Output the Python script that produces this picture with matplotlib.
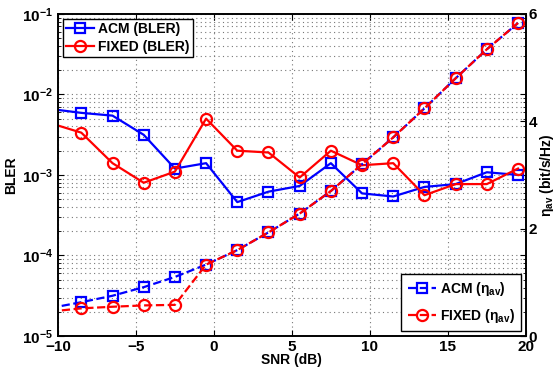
"""BLER and average spectral efficiency versus SNR, ACM vs fixed scheme."""

import matplotlib

matplotlib.use("Agg")
import matplotlib.pyplot as plt
from matplotlib.ticker import LogLocator, NullFormatter

plt.rcParams["font.family"] = ["Liberation Sans", "DejaVu Sans"]
plt.rcParams["font.weight"] = "bold"
plt.rcParams["mathtext.default"] = "regular"

# SNR points (first one lies just outside the plotted range)
snr = [-10.5, -8.5, -6.5, -4.5, -2.5, -0.5, 1.5, 3.5, 5.5, 7.5,
       9.5, 11.5, 13.5, 15.5, 17.5, 19.5]

bler_acm = [6.6e-3, 5.9e-3, 5.45e-3, 3.15e-3, 1.2e-3, 1.4e-3, 4.6e-4, 6.2e-4,
            7.3e-4, 1.4e-3, 5.9e-4, 5.4e-4, 7.1e-4, 7.7e-4, 1.08e-3, 1.0e-3]
bler_fixed = [4.4e-3, 3.35e-3, 1.4e-3, 8.0e-4, 1.1e-3, 5.0e-3, 2.0e-3, 1.9e-3,
              9.3e-4, 2.0e-3, 1.32e-3, 1.4e-3, 5.6e-4, 7.7e-4, 7.7e-4, 1.2e-3]

eta_acm = [0.52, 0.63, 0.75, 0.91, 1.10, 1.33, 1.60, 1.93, 2.28, 2.70,
           3.20, 3.70, 4.24, 4.80, 5.34, 5.83]
eta_fixed = [0.455, 0.515, 0.545, 0.57, 0.58, 1.33, 1.60, 1.93, 2.28, 2.70,
             3.20, 3.70, 4.24, 4.80, 5.34, 5.83]

xticks = [-10, -5, 0, 5, 10, 15, 20]
eta_ticks = [0, 2, 4, 6]


def main():
    fig = plt.figure(figsize=(5.57, 3.69), dpi=100)
    ax = fig.add_axes([0.104, 0.0894, 0.840, 0.873])
    ax2 = ax.twinx()

    # BLER curves (left, log axis)
    l1, = ax.semilogy(snr, bler_acm, "-s", color="#0000ff", lw=1.6, ms=7,
                      mfc="none", mew=1.6, label="ACM (BLER)")
    l2, = ax.semilogy(snr, bler_fixed, "-o", color="#ff0000", lw=1.6, ms=8,
                      mfc="none", mew=1.6, label="FIXED (BLER)")

    # spectral efficiency curves (right axis)
    l3, = ax2.plot(snr, eta_acm, "--s", color="#0000ff", lw=1.6, ms=7,
                   mfc="none", mew=1.6, label=r"ACM ($\eta_{av}$)")
    l4, = ax2.plot(snr, eta_fixed, "--o", color="#ff0000", lw=1.6, ms=8,
                   mfc="none", mew=1.6, label=r"FIXED ($\eta_{av}$)")

    ax.set_xlim(-10, 20)
    ax.set_ylim(1e-5, 1e-1)
    ax2.set_ylim(0, 6)
    ax.set_xticks(xticks)
    ax.set_xticklabels(["\u221210", "\u22125", "0", "5", "10", "15", "20"])
    ax2.set_yticks(eta_ticks)

    ax.yaxis.set_minor_locator(LogLocator(base=10, subs=range(2, 10), numticks=20))
    ax.yaxis.set_minor_formatter(NullFormatter())

    dots = (0, (1, 3))
    ax.grid(True, which="major", ls=dots, color="#777777", lw=0.8)
    ax.grid(True, which="minor", axis="y", ls=dots, color="#777777", lw=0.8)

    ax.tick_params(which="both", direction="in", top=True, right=True,
                   labelsize=11)
    ax.tick_params(which="major", length=4)
    ax.tick_params(which="minor", length=2.5)
    ax.tick_params(axis="x", pad=3)
    ax2.tick_params(direction="in", length=4, labelsize=11, pad=2)

    for a in (ax, ax2):
        for s in a.spines.values():
            s.set_linewidth(1.2)

    ax.set_xlabel("SNR (dB)", fontsize=10, fontweight="bold", labelpad=-1)
    ax.set_ylabel("BLER", fontsize=10, fontweight="bold", labelpad=3)
    ax2.set_ylabel(r"$\eta_{av}$ (bit/s/Hz)", fontsize=10, fontweight="bold",
                   labelpad=1)

    leg1 = ax2.legend(handles=[l1, l2], loc="upper left", fontsize=10,
                      fancybox=False, edgecolor="black", framealpha=1,
                      borderaxespad=0.35, handlelength=2.0, borderpad=0.25,
                      labelspacing=0.25, handletextpad=0.3)
    leg1.get_frame().set_linewidth(1.0)
    ax2.add_artist(leg1)
    leg2 = ax2.legend(handles=[l3, l4], loc="lower right", fontsize=10,
                      fancybox=False, edgecolor="black", framealpha=1,
                      borderaxespad=0.35, handlelength=2.0, borderpad=0.45,
                      labelspacing=0.65, handletextpad=0.3)
    leg2.get_frame().set_linewidth(1.0)

    fig.savefig("out.png", dpi=100)
    plt.close(fig)


if __name__ == "__main__":
    main()
